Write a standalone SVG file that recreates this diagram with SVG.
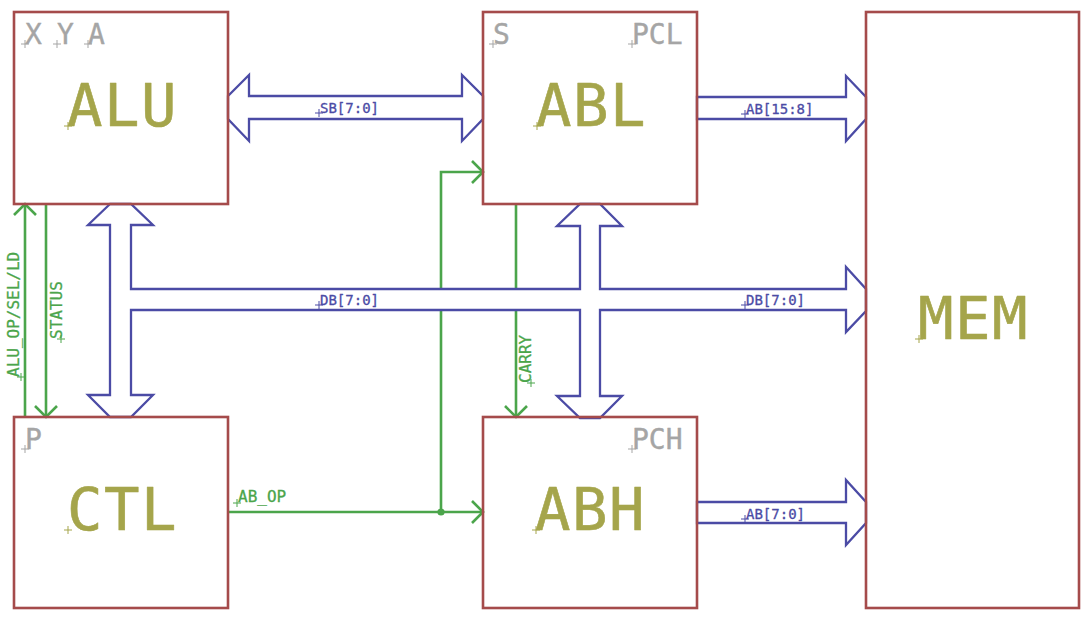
<svg xmlns="http://www.w3.org/2000/svg" width="1092" height="618" viewBox="0 0 1092 618">
<style>
.box{fill:none;stroke:#A54B4B;stroke-width:2.6}
.bus{fill:#fff;stroke:#4B4BA5;stroke-width:2.3;stroke-linejoin:miter}
.net{fill:none;stroke:#4BA54B;stroke-width:2.6}
text{font-family:"DejaVu Sans Mono","Liberation Mono",monospace;stroke-linejoin:round}
.big{font-size:59px;fill:#A5A54B;stroke:#A5A54B;stroke-width:0.6;letter-spacing:1.5px}
.ref{font-size:28px;fill:#A5A5A5;stroke:#A5A5A5;stroke-width:0.4}
.bl{font-size:14px;fill:#4B4BA5;stroke:#4B4BA5;stroke-width:0.3}
.gl{font-size:16px;fill:#4BA54B;stroke:#4BA54B;stroke-width:0.3}
.cx{fill:none;stroke-width:1}
</style>
<defs>
<marker id="ah" markerUnits="userSpaceOnUse" orient="auto" overflow="visible" markerWidth="1" markerHeight="1" refX="0" refY="0">
<path d="M-11,-11 L0,0 L-11,11" fill="none" stroke="#4BA54B" stroke-width="2.6"/>
</marker>
</defs>
<rect width="1092" height="618" fill="#fff"/>
<g id="connectors">
<g id="nets">
<path class="net" d="M25,417 V204" marker-end="url(#ah)"/>
<path class="net" d="M46,204 V417" marker-end="url(#ah)"/>
<path class="net" d="M516,204 V417" marker-end="url(#ah)"/>
<path class="net" d="M228,512 H483" marker-end="url(#ah)"/>
<path class="net" d="M441,512 V172 H483" marker-end="url(#ah)"/>
<circle cx="441" cy="512" r="3.6" fill="#4BA54B"/>
</g>
<g id="buses">
<polygon class="bus" points="228,96 249,75 249,96 462,96 462,75 483,96 483,119 462,141 462,119 249,119 249,141 228,119"/>
<polygon class="bus" points="697,97 846,97 846,76 866,97 866,119 846,141 846,119 697,119"/>
<polygon class="bus" points="697,502 846,502 846,480 866,502 866,523 846,545 846,523 697,523"/>
<polygon class="bus" points="110,204 88,225 110,225 110,395 88,395 110,417 131,417 153,395 131,395 131,310 580,310 580,396 557,396 580,418 600,418 622,396 600,396 600,310 846,310 846,332 866,311 866,289 846,267 846,289 600,289 600,226 622,226 600,204 580,204 557,226 580,226 580,289 131,289 131,225 153,225 131,204"/>
</g>
<g id="net-labels">
<text class="bl" x="320" y="113">SB[7:0]</text>
<text class="bl" x="320" y="305">DB[7:0]</text>
<text class="bl" x="746" y="305">DB[7:0]</text>
<text class="bl" x="746" y="114">AB[15:8]</text>
<text class="bl" x="746" y="519">AB[7:0]</text>
<text class="gl" x="238" y="502">AB_OP</text>
<text class="gl" transform="translate(19,377) rotate(-90)">ALU_OP/SEL/LD</text>
<text class="gl" transform="translate(62,339) rotate(-90)">STATUS</text>
<text class="gl" transform="translate(531,383) rotate(-90)">CARRY</text>
<path class="cx" stroke="#4B4BA5" d="M315,113h8M319,109v8M315,305h8M319,301v8M741,305h8M745,301v8M741,114h8M745,110v8M741,519h8M745,515v8"/>
<path class="cx" stroke="#4BA54B" d="M233,503h8M237,499v8M17,377h8M21,373v8M57,339h8M61,335v8M527,383h8M531,379v8"/>
</g>
</g>
<g id="ALU">
<rect class="box" x="14" y="12" width="214" height="192"/>
<text class="ref" x="25" y="44">X</text>
<text class="ref" x="57" y="44">Y</text>
<text class="ref" x="88" y="44">A</text>
<text class="big" x="67" y="126">ALU</text>
<path class="cx" stroke="#A5A5A5" d="M21,44h8M25,40v8M53,44h8M57,40v8M84,44h8M88,40v8"/>
<path class="cx" stroke="#A5A54B" d="M64,126h8M68,122v8"/>
</g>
<g id="ABL">
<rect class="box" x="483" y="12" width="214" height="192"/>
<text class="ref" x="493" y="44">S</text>
<text class="ref" x="632" y="44">PCL</text>
<text class="big" x="536" y="126">ABL</text>
<path class="cx" stroke="#A5A5A5" d="M489,44h8M493,40v8M628,44h8M632,40v8"/>
<path class="cx" stroke="#A5A54B" d="M533,126h8M537,122v8"/>
</g>
<g id="CTL">
<rect class="box" x="14" y="417" width="214" height="191"/>
<text class="ref" x="25" y="449">P</text>
<text class="big" x="67" y="530">CTL</text>
<path class="cx" stroke="#A5A5A5" d="M21,449h8M25,445v8"/>
<path class="cx" stroke="#A5A54B" d="M64,530h8M68,526v8"/>
</g>
<g id="ABH">
<rect class="box" x="483" y="417" width="214" height="191"/>
<text class="ref" x="632" y="449">PCH</text>
<text class="big" x="535" y="530">ABH</text>
<path class="cx" stroke="#A5A5A5" d="M628,449h8M632,445v8"/>
<path class="cx" stroke="#A5A54B" d="M532,530h8M536,526v8"/>
</g>
<g id="MEM">
<rect class="box" x="866" y="12" width="213" height="596"/>
<text class="big" x="918" y="339">MEM</text>
<path class="cx" stroke="#A5A54B" d="M915,339h8M919,335v8"/>
</g>
</svg>
